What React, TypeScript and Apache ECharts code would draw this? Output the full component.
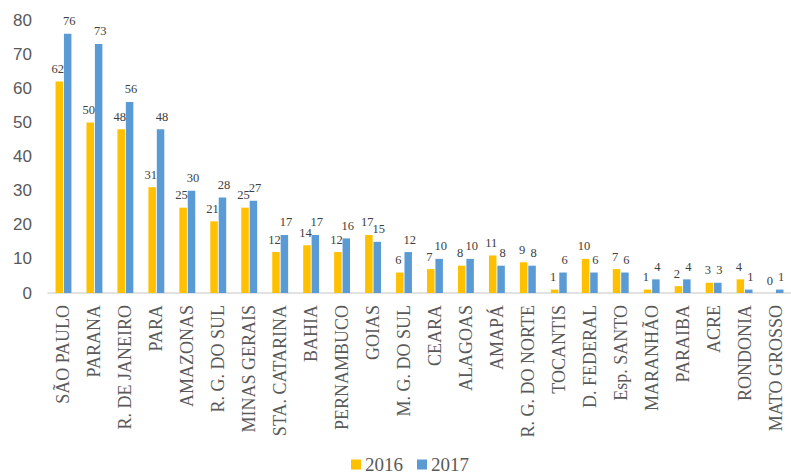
import React, { useEffect, useRef } from "react";
import * as echarts from "echarts";

const categories = [
  "SÃO PAULO", "PARANA", "R. DE JANEIRO", "PARA", "AMAZONAS", "R. G. DO SUL",
  "MINAS GERAIS", "STA. CATARINA", "BAHIA", "PERNAMBUCO", "GOIAS", "M. G. DO SUL",
  "CEARA", "ALAGOAS", "AMAPÁ", "R. G. DO NORTE", "TOCANTIS", "D. FEDERAL",
  "Esp. SANTO", "MARANHÃO", "PARAIBA", "ACRE", "RONDONIA", "MATO GROSSO",
];
const values2016 = [62, 50, 48, 31, 25, 21, 25, 12, 14, 12, 17, 6, 7, 8, 11, 9, 1, 10, 7, 1, 2, 3, 4, 0];
const values2017 = [76, 73, 56, 48, 30, 28, 27, 17, 17, 16, 15, 12, 10, 10, 8, 8, 6, 6, 6, 4, 4, 3, 1, 1];
const seriesNames = ["2016", "2017"];
const colors = ["#FFC000", "#5B9BD5"];

export default function App() {
  const ref = useRef<HTMLDivElement>(null);
  useEffect(() => {
    if (!ref.current) return;
    const chart = echarts.init(ref.current, null, { renderer: "svg" });
    const labelStyle = (dx: number) => ({
      show: true,
      position: "top",
      distance: 6,
      offset: [dx, 0],
      fontFamily: "Liberation Serif",
      fontSize: 12.5,
      color: "#404040",
    });
    chart.setOption({
      animation: false,
      backgroundColor: "#ffffff",
      grid: { left: 48, width: 748, top: 20, bottom: 181, containLabel: false },
      legend: {
        data: seriesNames,
        bottom: 0,
        left: 346,
        padding: [0, 5, 0, 5],
        itemWidth: 10,
        itemHeight: 10,
        itemGap: 14,
        icon: "rect",
        textStyle: { fontFamily: "Liberation Serif", fontSize: 19, lineHeight: 19, color: "#595959", padding: [0, 0, 0, -1] },
      },
      xAxis: {
        type: "category",
        data: categories,
        axisLine: { lineStyle: { color: "#D9D9D9", width: 1.5 } },
        axisTick: { show: false },
        axisLabel: {
          rotate: 90,
          interval: 0,
          margin: 12,
          fontFamily: "Liberation Serif",
          fontSize: 18,
          color: "#595959",
        },
      },
      yAxis: {
        type: "value",
        min: 0,
        max: 80,
        interval: 10,
        axisLine: { show: false },
        axisTick: { show: false },
        splitLine: { show: false },
        axisLabel: {
          margin: 16,
          fontFamily: "Liberation Sans",
          fontSize: 17,
          color: "#595959",
        },
      },
      series: [
        {
          name: seriesNames[0],
          type: "bar",
          data: values2016,
          barWidth: 7.5,
          barGap: "12%",
          itemStyle: { color: colors[0] },
          label: labelStyle(-1.5),
        },
        {
          name: seriesNames[1],
          type: "bar",
          data: values2017,
          barWidth: 7.5,
          barGap: "12%",
          itemStyle: { color: colors[1] },
          label: labelStyle(1.5),
        },
      ],
    });
    return () => chart.dispose();
  }, []);
  return <div ref={ref} style={{ width: 791, height: 474, position: "absolute", left: 0, top: 0 }} />;
}
